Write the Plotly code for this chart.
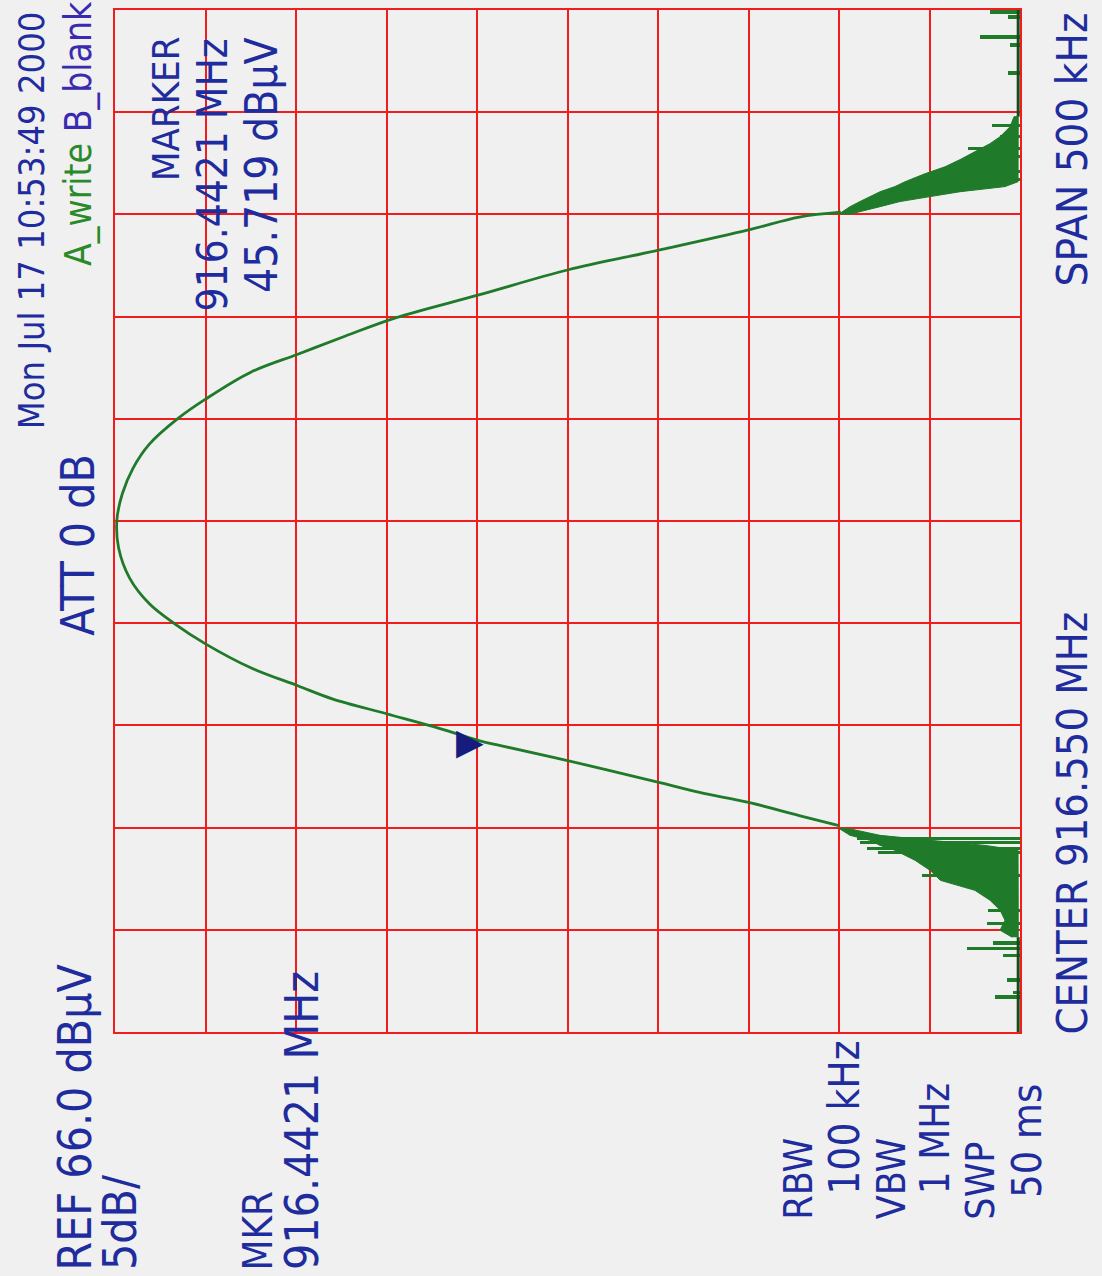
import plotly.graph_objects as go

# ---------------- data ----------------
# main smooth trace: frequency (MHz) and level (dBuV)
curve_freq = [916.4010, 916.4059, 916.4123, 916.4172, 916.4220, 916.4328, 916.4401, 916.4426,
              916.4494, 916.4557, 916.4630, 916.4694, 916.4782, 916.4899, 916.4997, 916.5095,
              916.5222, 916.5368, 916.5500, 916.5632, 916.5759, 916.5876, 916.6003, 916.6096,
              916.6228, 916.6316, 916.6404, 916.6494, 916.6606, 916.6728, 916.6826, 916.6924,
              916.6987, 916.7011]
curve_amp = [26.0, 28.2, 31.0, 33.7, 35.9, 41.0, 44.7, 45.9,
             48.4, 51.0, 54.0, 55.9, 58.5, 61.0, 62.7, 64.1,
             65.2, 65.8, 65.9, 65.6, 65.0, 64.1, 62.5, 61.0,
             58.5, 55.9, 53.3, 50.5, 45.9, 41.0, 35.9, 31.0,
             28.2, 25.9]

# noise floor segments at the bottom of the screen
floor_lo_freq = [916.3000, 916.3464]
floor_lo_amp = [16.1, 16.1]
floor_hi_freq = [916.7478, 916.8000]
floor_hi_amp = [16.1, 16.1]

# noisy band below the carrier: envelope (max / min level)
band_lo_freq = [916.3464, 916.3498, 916.3547, 916.3596, 916.3645, 916.3693, 916.3742,
                916.3791, 916.3840, 916.3889, 916.3913, 916.3938, 916.3962, 916.3996]
band_lo_max = [16.44, 17.10, 16.83, 17.10, 17.66, 18.49, 20.40,
               20.97, 21.80, 22.91, 23.73, 24.29, 25.39, 26.00]
band_lo_min = [16.10, 16.10, 16.10, 16.10, 16.10, 16.10, 16.10,
               16.10, 16.10, 16.11, 17.93, 20.97, 23.73, 25.50]

# noisy band above the carrier: envelope (max / min level)
band_hi_freq = [916.6999, 916.7038, 916.7063, 916.7087, 916.7111, 916.7136, 916.7160,
                916.7199, 916.7233, 916.7268, 916.7307, 916.7346, 916.7380, 916.7429, 916.7478]
band_hi_max = [26.05, 25.39, 24.84, 24.29, 23.73, 22.91, 22.35,
               21.25, 20.14, 19.31, 18.49, 17.66, 17.10, 16.55, 16.33]
band_hi_min = [25.50, 23.73, 22.63, 20.97, 19.31, 16.83, 16.11,
               16.10, 16.10, 16.10, 16.10, 16.10, 16.10, 16.10, 16.10]

# isolated noise spikes
spike_freq = [916.3171, 916.3195, 916.3254, 916.3376, 916.3410, 916.3435, 916.3532,
              916.3596, 916.3767, 916.3879, 916.3898, 916.3928, 916.3947,
              916.7170, 916.7209, 916.7282, 916.7321, 916.7380, 916.7434,
              916.7692, 916.7829, 916.7868, 916.7966, 916.7990]
spike_amp = [17.38, 16.39, 16.72, 16.94, 18.93, 17.49, 17.82,
             17.77, 21.41, 23.85, 24.45, 24.84, 25.00,
             21.52, 20.14, 17.93, 18.87, 17.10, 17.55,
             16.66, 16.55, 18.21, 16.66, 17.66]

marker_freq = 916.4421
marker_amp = 45.719

ref_level = 66.0
db_per_div = 5.0
center_mhz = 916.550
span_mhz = 0.500

# ---------------- styling ----------------
BG = "#f0f0f0"
GRID = "#f21c1c"
TRACE = "#1f7a2a"
TXT = "#1f2c9e"
MARK = "#161c7e"
FONT = "DejaVu Sans Condensed, DejaVu Sans, sans-serif"

W, H = 1102, 1276
L, R, T, B = 115, 1020, 8, 1032   # plot area in pixels

fig = go.Figure()

# noisy bands (polygon between max and min envelopes)
fig.add_trace(go.Scatter(
    x=band_lo_max + band_lo_min[::-1], y=band_lo_freq + band_lo_freq[::-1],
    fill="toself", fillcolor=TRACE, mode="lines", line=dict(color=TRACE, width=1),
    hoverinfo="skip", showlegend=False))
fig.add_trace(go.Scatter(
    x=band_hi_max + band_hi_min[::-1], y=band_hi_freq + band_hi_freq[::-1],
    fill="toself", fillcolor=TRACE, mode="lines", line=dict(color=TRACE, width=1),
    hoverinfo="skip", showlegend=False))

# spikes as thin horizontal bars from the bottom of the screen
fig.add_trace(go.Bar(
    x=spike_amp, y=spike_freq, orientation="h", width=0.0016,
    marker=dict(color=TRACE, line=dict(width=0)), hoverinfo="skip", showlegend=False))

# floor and main trace
for fx, fy in [(floor_lo_amp, floor_lo_freq), (floor_hi_amp, floor_hi_freq)]:
    fig.add_trace(go.Scatter(x=fx, y=fy, mode="lines", line=dict(color="#1a4a1a", width=3),
                             hoverinfo="skip", showlegend=False))
fig.add_trace(go.Scatter(
    x=curve_amp, y=curve_freq, mode="lines", line=dict(color=TRACE, width=2.8, shape="spline"),
    showlegend=False))

ymin = center_mhz - span_mhz / 2
ymax = center_mhz + span_mhz / 2
xlow = ref_level - 10 * db_per_div

fig.update_xaxes(range=[ref_level, xlow], tick0=xlow, dtick=db_per_div, showticklabels=False,
                 showgrid=True, gridcolor=GRID, gridwidth=2, zeroline=False,
                 showline=True, linecolor=GRID, linewidth=2, mirror=True, ticks="")
fig.update_yaxes(range=[ymin, ymax], tick0=ymin, dtick=span_mhz / 10, showticklabels=False,
                 showgrid=True, gridcolor=GRID, gridwidth=2, zeroline=False,
                 showline=True, linecolor=GRID, linewidth=2, mirror=True, ticks="")


def px(x, y):
    return (x - L) / (R - L), (B - y) / (B - T)


def label(text, xc, y, size, anchor="bottom", color=TXT):
    xp, yp = px(xc, y)
    fig.add_annotation(text=text, x=xp, y=yp, xref="paper", yref="paper",
                       textangle=-90, showarrow=False, xanchor="center", yanchor=anchor,
                       font=dict(family=FONT, size=size, color=color))


label("Mon Jul 17 10:53:49 2000", 31, 430, 36)
label("<span style='color:#2a8a2a'>A_write</span> <span style='color:#3a2ab0'>B_blank</span>",
      79, 267, 37)
label("ATT 0 dB", 78, 637, 46)
label("MARKER", 166, 33, 38, anchor="top")
label("916.4421 MHz", 212, 35, 42, anchor="top")
label("45.719 dB\u00b5V", 262, 33, 44, anchor="top")
label("REF 66.0 dB\u00b5V", 75, 1273, 46)
label("5dB/", 120, 1273, 46)
label("MKR", 258, 1273, 40)
label("916.4421 MHz", 302, 1273, 46)
label("RBW", 799, 1222, 39)
label("100 kHz", 845, 1197, 42)
label("VBW", 891, 1222, 39)
label("1 MHz", 935, 1197, 40)
label("SWP", 981, 1222, 39)
label("50 ms", 1027, 1200, 41)
label("CENTER 916.550 MHz", 1072, 1037, 43)
label("SPAN 500 kHz", 1072, 287, 43.5)

# marker triangle, tip at the marker position
fig.add_annotation(text="\u25b6", x=marker_amp, y=marker_freq, xref="x", yref="y",
                   showarrow=False, xanchor="right", yanchor="middle", xshift=4,
                   font=dict(family="DejaVu Sans", size=36, color=MARK))

fig.update_layout(width=W, height=H, margin=dict(l=L, r=W - R, t=T, b=H - B, pad=0),
                  paper_bgcolor=BG, plot_bgcolor=BG, bargap=0, showlegend=False)

fig.write_html("out.html", config={"displayModeBar": False},
               post_script="document.body.style.margin='0';")
